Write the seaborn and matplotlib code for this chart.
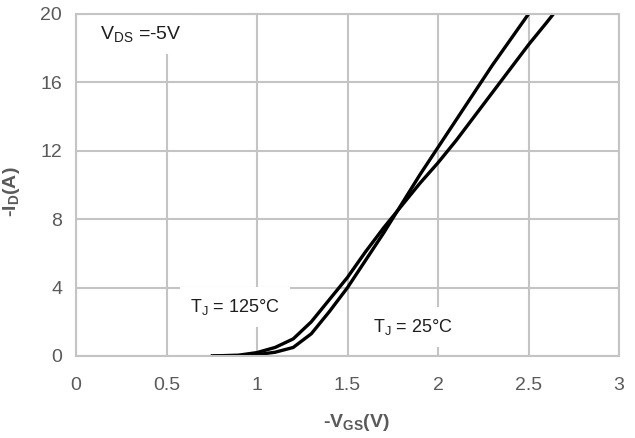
import matplotlib
matplotlib.use("Agg")
import matplotlib.pyplot as plt
import pandas as pd
import seaborn as sns

# Transfer characteristics: -ID vs -VGS at VDS = -5 V
vgs_25 = [0.75, 0.9, 1.0, 1.1, 1.2, 1.3, 1.4, 1.5, 1.6, 1.7, 1.8, 1.9,
          2.0, 2.1, 2.2, 2.3, 2.4, 2.5, 2.52]
id_25 = [0.0, 0.02, 0.08, 0.22, 0.5, 1.3, 2.6, 4.0, 5.6, 7.2, 8.9, 10.6,
         12.2, 13.8, 15.4, 17.0, 18.5, 20.0, 20.3]

vgs_125 = [0.75, 0.9, 1.0, 1.1, 1.2, 1.3, 1.4, 1.5, 1.6, 1.7, 1.8, 1.9,
           2.0, 2.1, 2.2, 2.3, 2.4, 2.5, 2.6, 2.66]
id_125 = [0.0, 0.05, 0.2, 0.5, 1.0, 2.0, 3.3, 4.6, 6.1, 7.5, 8.8, 10.1,
          11.3, 12.6, 14.0, 15.4, 16.8, 18.2, 19.5, 20.3]

x_ticks = [0, 0.5, 1, 1.5, 2, 2.5, 3]
x_tick_labels = ["0", "0.5", "1", "1.5", "2", "2.5", "3"]
y_ticks = [0, 4, 8, 12, 16, 20]
y_tick_labels = ["0", "4", "8", "12", "16", "20"]

df = pd.concat([
    pd.DataFrame({"vgs": vgs_25, "id": id_25, "tj": "25"}),
    pd.DataFrame({"vgs": vgs_125, "id": id_125, "tj": "125"}),
], ignore_index=True)

sns.set_theme(style="white")
plt.rcParams["font.family"] = ["Liberation Sans", "DejaVu Sans"]
plt.rcParams["mathtext.fontset"] = "custom"
plt.rcParams["mathtext.rm"] = "Liberation Sans"
plt.rcParams["mathtext.it"] = "Liberation Sans"
plt.rcParams["mathtext.bf"] = "Liberation Sans:bold"

grid_c = "#c4c4c4"
tick_c = "#5a5a5a"
text_c = "#1e1e1e"

fig = plt.figure(figsize=(6.35, 4.38), dpi=100)
ax = fig.add_axes([76 / 635, 1 - 356 / 438, 543 / 635, 342 / 438])

sns.lineplot(data=df, x="vgs", y="id", hue="tj", units="tj", estimator=None,
             palette={"25": "black", "125": "black"}, linewidth=2.4,
             legend=False, sort=False, ax=ax, zorder=5)

ax.set_xlim(0, 3)
ax.set_ylim(0, 20)
ax.set_xticks(x_ticks)
ax.set_xticklabels(x_tick_labels)
ax.set_yticks(y_ticks)
ax.set_yticklabels(y_tick_labels)
ax.grid(True, color=grid_c, linewidth=1.5)
ax.set_axisbelow(True)
for sp in ax.spines.values():
    sp.set_color(grid_c)
    sp.set_linewidth(1.5)
    sp.set_zorder(6)
ax.tick_params(axis="both", length=0, labelsize=14, labelcolor=tick_c)
ax.tick_params(axis="x", pad=15)
ax.tick_params(axis="y", pad=10)

ax.set_xlabel(r"-V$_{\mathbf{GS}}$(V)", fontsize=14, fontweight="bold",
              color=tick_c)
ax.set_ylabel(r"-I$_{\mathbf{D}}$(A)", fontsize=14, fontweight="bold",
              color=tick_c)
ax.xaxis.set_label_coords(0.517, -0.165)
ax.yaxis.set_label_coords(-0.10, 0.48)

box = dict(boxstyle="square,pad=0.55", facecolor="white", edgecolor="none")
ax.text(0.13, 18.85, r"V$_{\mathrm{DS}}$ =-5V", fontsize=14, color=text_c,
        ha="left", va="center", bbox=box, zorder=4)
ax.text(0.63, 2.85, r"T$_{\mathrm{J}}$ = 125°C", fontsize=13, color=text_c,
        ha="left", va="center", bbox=box, zorder=4)
ax.text(1.64, 1.7, r"T$_{\mathrm{J}}$ = 25°C", fontsize=13, color=text_c,
        ha="left", va="center", bbox=box, zorder=4)

fig.savefig("out.png", dpi=100)
